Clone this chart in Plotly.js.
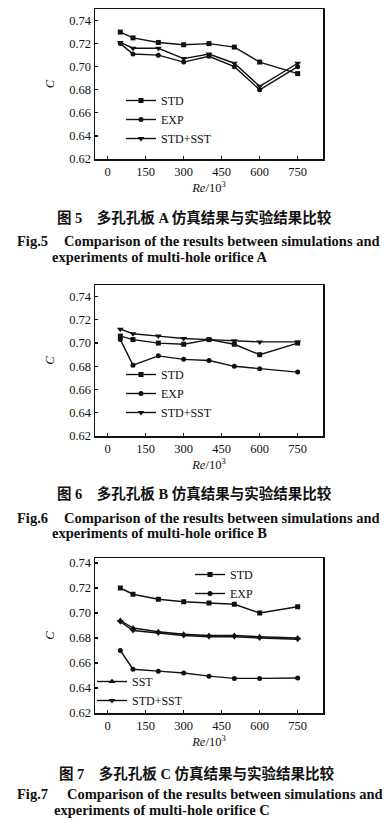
<!DOCTYPE html>
<html>
<head>
<meta charset="utf-8">
<script src="https://cdn.plot.ly/plotly-3.0.1.min.js"></script>
<style>
html,body{margin:0;padding:0;background:#fff;}
#chart{width:390px;height:827px;}
</style>
</head>
<body>
<div id="chart"></div>
<script>
// ---- data ----
const reX = [50, 100, 200, 300, 400, 500, 600, 750];
const xTicks = [0, 150, 300, 450, 600, 750];
const yTicks = [0.62, 0.64, 0.66, 0.68, 0.70, 0.72, 0.74];

// Fig.5 orifice A
const aSTD    = [0.730, 0.725, 0.721, 0.719, 0.720, 0.717, 0.704, 0.694];
const aEXP    = [0.720, 0.711, 0.710, 0.704, 0.709, 0.700, 0.680, 0.700];
const aSTDSST = [0.721, 0.716, 0.716, 0.707, 0.711, 0.703, 0.683, 0.703];

// Fig.6 orifice B
const bSTD    = [0.706, 0.703, 0.700, 0.699, 0.703, 0.699, 0.690, 0.700];
const bEXP    = [0.703, 0.681, 0.689, 0.686, 0.685, 0.680, 0.678, 0.675];
const bSTDSST = [0.712, 0.708, 0.706, 0.704, 0.703, 0.702, 0.701, 0.701];

// Fig.7 orifice C
const cSTD    = [0.720, 0.715, 0.711, 0.709, 0.708, 0.707, 0.700, 0.705];
const cEXP    = [0.670, 0.655, 0.6535, 0.652, 0.6495, 0.6477, 0.6477, 0.648];
const cSST    = [0.694, 0.688, 0.685, 0.683, 0.682, 0.682, 0.681, 0.680];
const cSTDSST = [0.693, 0.686, 0.684, 0.682, 0.681, 0.681, 0.680, 0.679];

const captions = [
  {cn: "图 5　多孔孔板 A 仿真结果与实验结果比较", fig: "Fig.5", l2: "Comparison of the results between simulations and", l3: "experiments of multi-hole orifice A"},
  {cn: "图 6　多孔孔板 B 仿真结果与实验结果比较", fig: "Fig.6", l2: "Comparison of the results between simulations and", l3: "experiments of multi-hole orifice B"},
  {cn: "图 7　多孔孔板 C 仿真结果与实验结果比较", fig: "Fig.7", l2: "Comparison of the results between simulations and", l3: "experiments of multi-hole orifice C"}
];

// ---- layout helpers ----
const W = 390, H = 827;
const px = p => p / W;
const py = p => 1 - p / H;
const SERIF = 'Liberation Serif, "Times New Roman", serif';
const INK = '#111';

function series(x, y, name, symbol, xa, ya, legend) {
  return {
    x: x, y: y, name: name, type: 'scatter', mode: 'lines+markers',
    xaxis: xa, yaxis: ya, legend: legend,
    line: {color: INK, width: 1.4},
    marker: {symbol: symbol, size: symbol.indexOf('triangle') === 0 ? 6 : 5, color: INK}
  };
}

const traces = [
  series(reX, aSTD, 'STD', 'square', 'x', 'y', 'legend'),
  series(reX, aEXP, 'EXP', 'circle', 'x', 'y', 'legend'),
  series(reX, aSTDSST, 'STD+SST', 'triangle-down', 'x', 'y', 'legend'),
  series(reX, bSTD, 'STD', 'square', 'x2', 'y2', 'legend2'),
  series(reX, bEXP, 'EXP', 'circle', 'x2', 'y2', 'legend2'),
  series(reX, bSTDSST, 'STD+SST', 'triangle-down', 'x2', 'y2', 'legend2'),
  series(reX, cSTD, 'STD', 'square', 'x3', 'y3', 'legend3'),
  series(reX, cEXP, 'EXP', 'circle', 'x3', 'y3', 'legend3'),
  series(reX, cSST, 'SST', 'triangle-up', 'x3', 'y3', 'legend4'),
  series(reX, cSTDSST, 'STD+SST', 'triangle-down', 'x3', 'y3', 'legend4')
];

const tickFont = {family: SERIF, size: 12.5, color: INK};

function xAxis(anchor) {
  return {
    anchor: anchor, domain: [px(95), px(323)], range: [-50, 850],
    tickvals: xTicks, ticktext: xTicks.map(String),
    ticks: 'inside', ticklen: 3, tickwidth: 1.2, tickcolor: INK,
    showline: true, mirror: true, linecolor: INK, linewidth: 1.5,
    showgrid: false, zeroline: false, tickfont: tickFont,
    title: {text: '<i>Re</i>/10<sup>3</sup>', font: {family: SERIF, size: 12.5, color: INK}, standoff: 5}
  };
}
function yAxis(anchor, top, bottom, ymax) {
  return {
    anchor: anchor, domain: [py(bottom), py(top)], range: [0.62, ymax],
    tickvals: yTicks, ticktext: yTicks.map(v => v.toFixed(2)),
    ticks: 'inside', ticklen: 3, tickwidth: 1.2, tickcolor: INK,
    showline: true, mirror: true, linecolor: INK, linewidth: 1.5,
    showgrid: false, zeroline: false, tickfont: tickFont,
    title: {text: '<i>C</i>', font: {family: SERIF, size: 12.5, color: INK}, standoff: 12}
  };
}

function legendBox(xp, yp) {
  return {
    x: px(xp), y: py(yp), xanchor: 'left', yanchor: 'top',
    xref: 'paper', yref: 'paper',
    bgcolor: 'rgba(0,0,0,0)', borderwidth: 0, itemwidth: 30,
    font: {family: SERIF, size: 12, color: INK}, tracegroupgap: 0
  };
}

const capBlocks = [
  {cnX: 55, cnY: 217, figY: 241, compX: 62, l3X: 50, l3Y: 257},
  {cnX: 55, cnY: 493, figY: 518, compX: 62, l3X: 50, l3Y: 533},
  {cnX: 57, cnY: 773, figY: 794, compX: 65, l3X: 52, l3Y: 810}
];
const annotations = [];
capBlocks.forEach((b, i) => {
  const c = captions[i];
  const base = {xref: 'paper', yref: 'paper', xanchor: 'left', yanchor: 'middle', showarrow: false};
  annotations.push(Object.assign({}, base, {x: px(b.cnX), y: py(b.cnY), text: '<b>' + c.cn + '</b>',
    font: {family: SERIF + ', "Noto Sans CJK SC"', size: 14.5, color: INK}}));
  annotations.push(Object.assign({}, base, {x: px(15), y: py(b.figY), text: '<b>' + c.fig + '</b>',
    font: {family: SERIF, size: 14.5, color: INK}}));
  annotations.push(Object.assign({}, base, {x: px(b.compX), y: py(b.figY), text: '<b>' + c.l2 + '</b>',
    font: {family: SERIF, size: 14.5, color: INK}}));
  annotations.push(Object.assign({}, base, {x: px(b.l3X), y: py(b.l3Y), text: '<b>' + c.l3 + '</b>',
    font: {family: SERIF, size: 14.5, color: INK}}));
});

const layout = {
  width: W, height: H,
  margin: {l: 0, r: 0, t: 0, b: 0},
  paper_bgcolor: '#fff', plot_bgcolor: '#fff',
  showlegend: true,
  xaxis: xAxis('y'), yaxis: yAxis('x', 9, 159, 0.75),
  xaxis2: xAxis('y2'), yaxis2: yAxis('x2', 285, 436, 0.75),
  xaxis3: xAxis('y3'), yaxis3: yAxis('x3', 558, 713, 0.744),
  legend: legendBox(121, 86),
  legend2: legendBox(121, 360),
  legend3: legendBox(190, 560),
  legend4: legendBox(92, 667),
  annotations: annotations
};

Plotly.newPlot('chart', traces, layout, {staticPlot: true, displayModeBar: false});
</script>
</body>
</html>
